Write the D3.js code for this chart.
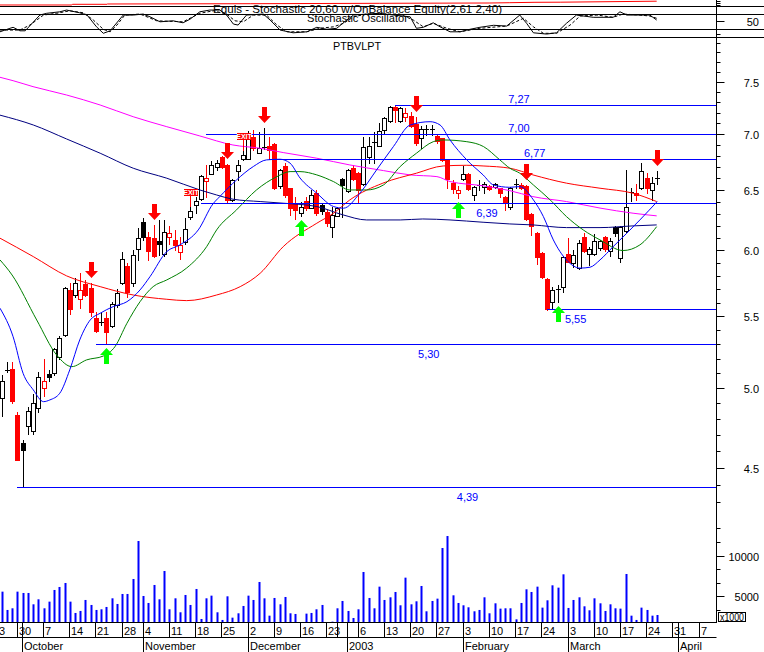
<!DOCTYPE html>
<html><head><meta charset="utf-8">
<script src="https://cdn.jsdelivr.net/npm/d3@7"></script>
<style>
body{margin:0;background:#fff}
svg{display:block}
text{font-family:"Liberation Sans",Arial,sans-serif;font-size:11px}
</style>
</head><body>
<svg id="c" width="764" height="652"></svg>
<script>
// ---------------- DATA ----------------
const firstBarDate = "2002-09-25";
const holidays = ["2002-11-01","2002-12-24","2002-12-25","2002-12-26","2003-01-01"];
const monthNames = ["January","February","March","April","May","June","July","August","September","October","November","December"];

const open = [4.941,5.124,5.135,4.829,4.654,4.761,4.730,4.872,5.003,5.099,
5.103,5.212,5.368,5.698,5.662,5.628,5.743,5.711,5.488,5.460,
5.488,5.435,5.586,5.748,5.885,5.748,6.014,6.233,6.112,6.101,
6.080,5.974,6.109,6.088,5.995,6.074,6.273,6.380,6.425,6.585,
6.644,6.709,6.792,6.723,6.419,6.670,6.774,6.774,6.973,6.834,
6.882,6.890,6.910,6.538,6.717,6.518,6.390,6.307,6.410,6.354,
6.481,6.375,6.315,6.196,6.285,6.600,6.498,6.694,6.649,6.556,
6.797,6.933,6.894,7.041,7.126,7.256,7.126,7.161,7.174,7.097,
6.964,7.047,7.047,6.986,6.964,6.777,6.568,6.480,6.597,6.644,
6.461,6.550,6.527,6.541,6.527,6.519,6.447,6.357,6.556,6.547,
6.538,6.301,6.142,5.982,5.782,5.610,5.703,5.719,5.976,5.903,
5.864,6.109,5.976,5.976,6.021,6.109,6.002,6.191,5.942,6.163,
6.485,6.481,6.519,6.606,6.504,6.606];
const high = [5.091,5.180,5.180,4.846,4.672,4.882,4.963,5.112,5.203,5.126,
5.277,5.360,5.720,5.748,5.790,5.825,5.774,5.748,5.531,5.531,
5.531,5.610,5.703,5.994,5.903,6.008,6.183,6.266,6.150,6.210,
6.249,6.251,6.204,6.169,6.115,6.268,6.363,6.447,6.630,6.720,
6.762,6.768,6.800,6.730,6.600,6.768,6.852,7.030,7.040,7.025,
7.057,6.980,6.920,6.690,6.739,6.520,6.440,6.400,6.440,6.500,
6.500,6.390,6.330,6.363,6.360,6.610,6.690,6.720,6.660,6.976,
6.976,7.025,7.106,7.160,7.272,7.272,7.260,7.250,7.212,7.160,
7.080,7.088,7.088,6.995,6.970,6.780,6.591,6.539,6.714,6.650,
6.540,6.591,6.576,6.550,6.560,6.520,6.450,6.530,6.597,6.560,
6.547,6.310,6.150,5.990,5.790,5.719,5.736,5.960,6.102,6.008,
6.088,6.142,6.034,6.136,6.090,6.120,6.104,6.200,6.200,6.679,
6.521,6.556,6.744,6.649,6.620,6.670];
const low = [4.825,5.110,4.908,4.550,4.390,4.709,4.709,4.850,4.953,5.053,
5.092,5.200,5.360,5.518,5.647,5.562,5.654,5.508,5.390,5.440,
5.305,5.423,5.573,5.743,5.647,5.728,5.929,6.088,5.929,5.953,
5.968,5.961,6.053,6.008,5.937,6.056,6.259,6.307,6.419,6.442,
6.640,6.679,6.700,6.400,6.410,6.591,6.770,6.774,6.860,6.830,
6.866,6.780,6.510,6.520,6.440,6.290,6.260,6.280,6.330,6.350,
6.290,6.300,6.200,6.115,6.280,6.279,6.490,6.590,6.396,6.550,
6.739,6.739,6.890,7.010,7.120,7.119,7.120,7.126,7.070,6.900,
6.873,6.995,6.995,6.919,6.760,6.519,6.478,6.433,6.591,6.500,
6.419,6.504,6.476,6.500,6.520,6.447,6.335,6.343,6.519,6.513,
6.251,6.128,5.898,5.790,5.550,5.554,5.610,5.686,5.913,5.877,
5.860,5.990,5.890,5.970,6.010,6.000,5.960,6.120,5.913,6.153,
6.410,6.419,6.513,6.481,6.419,6.553];
const close = [5.051,5.124,4.921,4.550,4.613,4.853,4.904,5.076,5.051,5.081,
5.268,5.345,5.711,5.554,5.748,5.698,5.660,5.531,5.397,5.460,
5.392,5.591,5.673,5.935,5.685,5.968,6.101,6.109,6.000,5.961,
6.058,6.150,6.145,6.048,6.046,6.175,6.327,6.410,6.626,6.611,
6.723,6.744,6.709,6.419,6.591,6.723,6.813,7.004,6.872,6.872,
6.882,6.860,6.517,6.679,6.462,6.350,6.335,6.363,6.350,6.461,
6.307,6.327,6.229,6.293,6.350,6.547,6.679,6.597,6.504,6.882,
6.894,6.933,7.032,7.152,7.256,7.227,7.250,7.200,7.078,6.924,
7.047,7.047,7.047,6.940,6.768,6.597,6.511,6.505,6.644,6.511,
6.533,6.550,6.556,6.513,6.553,6.481,6.390,6.524,6.556,6.524,
6.257,6.204,5.955,5.795,5.554,5.698,5.703,5.950,5.915,5.968,
6.061,6.002,6.014,6.080,6.082,6.014,6.082,6.147,6.196,6.363,
6.485,6.461,6.670,6.519,6.562,6.606];
const volume = [5618,3366,3571,5618,5454,5454,4061,4676,3571,4389,
5823,6192,6683,4389,2997,3243,4594,3980,3366,3448,
3735,4799,4102,5331,5331,7174,11843,5085,4225,6437,
4676,8157,3448,4799,3080,5208,3980,5946,2256,4799,
5126,3080,2137,5044,2420,2956,3857,5126,4594,6806,
4799,2665,4840,4061,4962,2956,2874,1850,2915,2997,
3448,3980,1700,1930,3571,4471,3243,2379,3448,8034,
4840,3571,6232,4594,4922,5577,3939,7338,4061,4430,
6314,3202,4471,4758,10982,12456,5167,4225,3939,3694,
3202,3366,4922,2956,4184,3530,3571,3571,2215,4225,
5905,5577,6232,3653,4553,6396,6110,7748,3612,4594,
4922,3816,3325,4799,4184,3243,4061,3571,3530,7789,
2665,2137,3653,3366,2665,2747];

// moving averages: [bar index, price]
const maMagenta = [[-0.3,7.55],[2.2,7.516],[6.0,7.457],[12.4,7.375],[18.8,7.278],[25.1,7.166],[31.5,7.072],[37.8,6.986],[44.1,6.903],[49.3,6.873],[53.7,6.834],[60.1,6.783],[66.4,6.723],[72.8,6.673],[77.9,6.635],[83.0,6.62],[85.5,6.577],[91.8,6.54],[96.9,6.498],[101.3,6.447],[107.7,6.405],[114.1,6.35],[120.4,6.307],[124.9,6.285]];
const maNavy = [[-0.3,7.181],[6.05,7.088],[12.4,6.958],[18.8,6.828],[25.1,6.694],[31.5,6.606],[37.8,6.504],[41.0,6.461],[44.1,6.425],[49.3,6.405],[53.7,6.391],[60.1,6.363],[65.1,6.293],[69.6,6.251],[76.0,6.251],[80.3,6.259],[85.5,6.251],[91.8,6.232],[96.9,6.218],[101.3,6.21],[107.7,6.188],[114.1,6.188],[120.4,6.202],[124.9,6.21]];
const maRed = [[-0.3,6.102],[6.05,5.955],[12.4,5.805],[18.8,5.723],[25.1,5.66],[31.5,5.628],[35.3,5.618],[41.0,5.66],[45.5,5.723],[49.3,5.825],[53.7,6.034],[60.1,6.224],[63.3,6.307],[66.4,6.419],[72.7,6.563],[79.1,6.65],[84.2,6.714],[88.7,6.72],[91.8,6.714],[96.9,6.694],[101.3,6.635],[107.7,6.563],[114.1,6.519],[120.4,6.476],[124.9,6.405]];
const maGreen = [[-0.3,5.929],[2.0,5.812],[6.7,5.476],[10.5,5.228],[13.4,5.148],[16.2,5.194],[19.4,5.221],[21.6,5.285],[23.9,5.452],[26.4,5.61],[28.9,5.723],[31.5,5.774],[35.3,5.866],[39.1,6.034],[41.0,6.169],[44.8,6.335],[48.6,6.504],[52.5,6.62],[55.0,6.664],[56.9,6.664],[60.1,6.635],[63.3,6.576],[66.4,6.504],[69.6,6.504],[72.8,6.547],[76.0,6.709],[79.1,6.828],[82.3,6.933],[84.2,6.949],[88.7,6.933],[91.9,6.888],[95.0,6.768],[96.9,6.694],[98.8,6.65],[101.4,6.547],[104.6,6.419],[107.7,6.279],[110.9,6.169],[114.1,6.088],[118.5,6.003],[121.7,6.048],[124.9,6.196]];
const maBlue = [[-0.3,5.562],[2.2,5.356],[4.1,5.103],[6.05,4.992],[8.0,4.915],[9.2,4.926],[11.1,4.97],[13.0,5.126],[14.9,5.333],[16.9,5.476],[18.8,5.525],[21.3,5.574],[23.9,5.61],[26.4,5.698],[28.3,5.799],[31.5,5.995],[34.0,6.048],[37.5,6.169],[40.3,6.385],[41.6,6.447],[44.8,6.591],[48.0,6.709],[50.5,6.768],[53.1,6.774],[55.0,6.739],[56.9,6.608],[60.1,6.476],[63.3,6.363],[65.2,6.349],[68.3,6.476],[71.5,6.679],[74.7,6.888],[77.9,7.088],[81.7,7.119],[83.6,7.088],[85.5,6.949],[88.7,6.768],[91.8,6.635],[93.8,6.547],[96.9,6.527],[98.8,6.533],[101.4,6.419],[103.3,6.279],[105.2,6.088],[107.7,5.929],[110.3,5.865],[112.2,5.872],[114.1,5.929],[116.6,6.034],[119.2,6.142],[121.7,6.251],[125,6.405]];

// stochastic %K (solid) and %D (dashed): [bar index, value 0-100]
const stochK = [[-0.3,10],[1.6,24],[2.2,28],[3.5,14],[4.5,14],[7.3,77],[8.6,84],[11.1,90],[12.4,97],[14.9,86],[16.3,77],[18.1,30],[19.4,4],[20.7,14],[23.2,77],[25.1,77],[27.0,81],[28.3,70],[30.2,50],[32.7,54],[34.6,46],[35.9,60],[37.8,90],[39.7,97],[41.6,97],[42.9,77],[44.2,41],[45.1,37],[46.7,77],[49.9,81],[51.2,57],[53.1,17],[55.6,6],[58.2,10],[60.1,28],[62.0,20],[63.9,24],[65.8,57],[67.1,77],[69.6,81],[72.1,84],[74.7,77],[77.9,70],[79.1,24],[80.4,28],[82.3,46],[83.6,30],[85.5,10],[87.4,10],[89.3,20],[91.2,28],[93.8,36],[96.3,33],[98.8,77],[100.1,44],[101.4,6],[103.9,1],[105.8,6],[107.7,44],[109.6,77],[112.8,68],[116.6,68],[117.9,90],[119.2,77],[121.1,77],[123.6,77],[124.9,57]];
const stochD = [[-0.3,17],[3.5,17],[5.4,37],[8.0,77],[10.5,84],[13.0,94],[15.6,86],[17.5,57],[19.4,20],[20.7,10],[22.0,37],[23.5,77],[26.4,81],[29.6,54],[34.6,50],[37.8,84],[40.4,94],[42.9,81],[44.5,54],[46.1,50],[48.0,77],[50.5,77],[52.5,37],[54.4,10],[58.2,10],[60.7,24],[63.3,30],[65.2,44],[67.1,70],[69.6,81],[72.1,81],[75.9,81],[78.5,57],[80.4,30],[82.3,44],[84.9,24],[87.4,10],[91.2,24],[96.3,33],[99.5,64],[101.4,30],[103.3,4],[105.8,4],[108.4,37],[110.3,73],[113.5,77],[116.6,68],[118.5,81],[121.7,77],[123.6,73],[124.9,64]];
const stochLevels = [20, 80];

// equity line (top strip)
const equity = [[-0.3,28.6],[13.4,28.6],[13.5,38.6],[20.1,38.6],[20.2,42.9],[47.4,47.1],[72.1,52.9],[93.1,57.1],[96.9,61.4],[101.7,67.1],[106.5,68.6],[124.9,82.9]];

// support / resistance lines: value, start bar, label bar, label side
const levels = [7.27, 7.00, 6.77, 6.39, 5.55, 5.30, 4.39];
const levelStart = [75, 39, 51, 38, 104, 18, 3];
const levelLabelAt = [96.6, 96.6, 99.6, 90.5, 107.4, 79.4, 86.8];
const levelLabelBelow = [false, false, false, true, true, true, true];

// expert signals
const sellSignals = [17, 29, 43, 50, 79, 100, 125];
const buySignals = [20, 57, 87, 106];
const exitSignals = [36, 46];

const priceTicksMajor = [4.5, 5.0, 5.5, 6.0, 6.5, 7.0, 7.5];
const volTicks = [3333.3, 5000, 6666.7, 8333.3, 10000, 11666.7, 13333.3];
const volTicksLabeled = [5000, 10000];

// ---------------- CHART ----------------
const svg = d3.select("#c");
svg.append("rect").attr("width",764).attr("height",652).attr("fill","#fff");

const AX = 716.5;
const x = d3.scaleLinear().domain([0,125]).range([1.57,657.2]);
const y = d3.scaleLog().domain([4.5,7.5]).range([468.3,82.3]);
const yVol = d3.scaleLinear().domain([1800,10000]).range([622.7,556]);
const yS = d3.scaleLinear().domain([0,100]).range([34.3,9.3]);
const yEq = d3.scaleLinear().domain([0,100]).range([7,0]);
const h = v => Math.round(v)+0.5;

// top strip: equity line
svg.append("path").datum(equity)
  .attr("d", d3.line().x(d=>x(d[0])).y(d=>yEq(d[1])))
  .attr("fill","none").attr("stroke","#ff0000").attr("stroke-width",1);

// panel separators and stochastic levels
[6.5, yS(stochLevels[1]), yS(stochLevels[0]), 37.5].forEach(v=>{
  svg.append("line").attr("x1",0).attr("x2",764).attr("y1",h(v-0.5)).attr("y2",h(v-0.5))
    .attr("stroke","#000").attr("stroke-width",1);
});

// stochastic lines
svg.append("path").datum(stochD)
  .attr("d", d3.line().x(d=>x(d[0])).y(d=>yS(d[1])))
  .attr("fill","none").attr("stroke","#000").attr("stroke-width",1).attr("stroke-dasharray","3,2");
svg.append("path").datum(stochK)
  .attr("d", d3.line().x(d=>x(d[0])).y(d=>yS(d[1])))
  .attr("fill","none").attr("stroke","#000").attr("stroke-width",1);

// titles
svg.append("text").attr("x",213).attr("y",12.5).attr("textLength",289).attr("lengthAdjust","spacingAndGlyphs")
  .style("font-size","10.5px")
  .text("Equis - Stochastic 20,60  w/OnBalance Equity(2,61 2,40)");
svg.append("text").attr("x",307).attr("y",21.5).attr("textLength",101).attr("lengthAdjust","spacingAndGlyphs")
  .style("font-size","10.5px")
  .text("Stochastic Oscillator");
svg.append("text").attr("x",333).attr("y",49.5).attr("textLength",48).attr("lengthAdjust","spacingAndGlyphs")
  .text("PTBVLPT");

// candles
const gC = svg.append("g");
open.forEach((o,i)=>{
  const c = close[i];
  const prev = i>0 ? close[i-1] : -Infinity;
  const col = c >= prev ? "#000" : "#ff0000";
  const cx = Math.round(x(i));
  gC.append("line").attr("x1",cx+0.5).attr("x2",cx+0.5)
    .attr("y1",Math.round(y(high[i]))).attr("y2",Math.round(y(low[i]))+1)
    .attr("stroke",col).attr("stroke-width",1);
  const top = Math.round(y(Math.max(o,c))), bot = Math.round(y(Math.min(o,c)));
  if (Math.abs(o-c) < 0.004) {
    gC.append("line").attr("x1",cx-2).attr("x2",cx+3).attr("y1",top+0.5).attr("y2",top+0.5)
      .attr("stroke",col).attr("stroke-width",1);
  } else if (c > o) {
    gC.append("rect").attr("x",cx-1.5).attr("y",top+0.5).attr("width",4).attr("height",Math.max(1,bot-top))
      .attr("fill","#fff").attr("stroke",col).attr("stroke-width",1);
  } else {
    gC.append("rect").attr("x",cx-2).attr("y",top).attr("width",5).attr("height",Math.max(2,bot-top+1))
      .attr("fill",col);
  }
});

// moving averages
const maLine = d3.line().x(d=>x(d[0])).y(d=>y(d[1])).curve(d3.curveMonotoneX);
[[maNavy,"#000080"],[maMagenta,"#ff00ff"],[maRed,"#ff0000"],[maGreen,"#008000"],[maBlue,"#0000ff"]].forEach(([arr,col])=>{
  svg.append("path").datum(arr).attr("d",maLine).attr("fill","none").attr("stroke",col).attr("stroke-width",1);
});

// support / resistance
const fmtLvl = v => d3.format(".2f")(v).replace(".",",");
levels.forEach((v,k)=>{
  const yy = h(y(v)-0.5);
  svg.append("line").attr("x1",Math.round(x(levelStart[k]))).attr("x2",AX).attr("y1",yy).attr("y2",yy)
    .attr("stroke","#0000ff").attr("stroke-width",1);
  svg.append("text").attr("x",x(levelLabelAt[k])).attr("y", levelLabelBelow[k] ? yy+13 : yy-3)
    .attr("fill","#0000ff").text(fmtLvl(v));
});

// signals
const sellPath = "M-2.5,-16L2.5,-16L2.5,-7L6.5,-7L0,0L-6.5,-7L-2.5,-7Z";
const buyPath = "M-2.5,16L2.5,16L2.5,7L6.5,7L0,0L-6.5,7L-2.5,7Z";
sellSignals.forEach(i=>{
  svg.append("path").attr("d",sellPath).attr("fill","#ff0000")
    .attr("transform",`translate(${Math.round(x(i))+0.5},${Math.round(y(high[i]))-5})`);
});
buySignals.forEach(i=>{
  svg.append("path").attr("d",buyPath).attr("fill","#00ff00")
    .attr("transform",`translate(${Math.round(x(i))+0.5},${Math.round(y(low[i]))+4})`);
});
exitSignals.forEach(i=>{
  const cx = Math.round(x(i)), hy = Math.round(y(high[i]));
  svg.append("line").attr("x1",cx+0.5).attr("x2",cx+0.5).attr("y1",hy-11).attr("y2",hy)
    .attr("stroke","#ff0000").attr("stroke-width",1);
  svg.append("rect").attr("x",cx-6).attr("y",hy-18).attr("width",14).attr("height",7).attr("fill","#ff0000");
  svg.append("text").attr("x",cx+1).attr("y",hy-12).attr("text-anchor","middle")
    .style("font-size","7px").style("font-weight","bold").attr("fill","#fff").text("EXIT");
});

// volume
volume.forEach((v,i)=>{
  const top = yVol(Math.max(v,1800));
  const cx = Math.round(x(i));
  if (622.7 - top >= 0.5)
    svg.append("rect").attr("x",cx-0.5).attr("y",top).attr("width",2).attr("height",622.7-top).attr("fill","#0000ff");
});

// right axis
svg.append("line").attr("x1",AX).attr("x2",AX).attr("y1",0).attr("y2",623).attr("stroke","#000");
d3.range(43,80).forEach(t=>{
  const v = t/10, yy = h(y(v)-0.5);
  const major = priceTicksMajor.some(m=>Math.abs(m-v)<1e-6);
  svg.append("line").attr("x1",AX).attr("x2",AX+(major?8:4)).attr("y1",yy).attr("y2",yy).attr("stroke","#000");
  if (major) svg.append("text").attr("x",759).attr("y",yy+4).attr("text-anchor","end").text(d3.format(".1f")(v));
});
volTicks.forEach(v=>{
  const yy = h(yVol(v)-0.5);
  const lab = volTicksLabeled.includes(v);
  svg.append("line").attr("x1",AX).attr("x2",AX+(lab?8:4)).attr("y1",yy).attr("y2",yy).attr("stroke","#000");
  if (lab) svg.append("text").attr("x",759).attr("y",yy+4).attr("text-anchor","end").text(v);
});
[0,20,50,80].forEach(v=>{
  const yy = h(yS(v)-0.5);
  svg.append("line").attr("x1",AX).attr("x2",AX+(v===50?8:4)).attr("y1",yy).attr("y2",yy).attr("stroke","#000");
  if (v===50) svg.append("text").attr("x",759).attr("y",yy+4).attr("text-anchor","end").text(v);
});
[15,43,76].forEach(v=>{
  const yy = h(yEq(v)-0.5);
  svg.append("line").attr("x1",AX).attr("x2",AX+4).attr("y1",yy).attr("y2",yy).attr("stroke","#000");
});
svg.append("rect").attr("x",718.5).attr("y",612.5).attr("width",27).attr("height",9).attr("fill","#fff").attr("stroke","#000");
svg.append("text").attr("x",720).attr("y",620.5).attr("textLength",24).attr("lengthAdjust","spacingAndGlyphs")
  .style("font-size","10px").text("x1000");

// x axis (trading calendar)
const fmt = d3.timeFormat("%Y-%m-%d");
const days = d3.timeDay.range(new Date(2002,8,23), new Date(2003,3,14))
  .filter(d=>d.getDay()%6!==0 && !holidays.includes(fmt(d)));
const off = days.findIndex(d=>fmt(d)===firstBarDate);
svg.append("line").attr("x1",0).attr("x2",AX).attr("y1",622.5).attr("y2",622.5).attr("stroke","#000");
svg.append("line").attr("x1",0).attr("x2",AX).attr("y1",637.5).attr("y2",637.5).attr("stroke","#000");
let lastEnd = -1e9;
days.forEach((d,j)=>{
  const xx = x(j-off);
  if (xx > AX-1) return;
  const prev = days[j-1];
  const weekStart = !prev || +d3.timeMonday.floor(d) !== +d3.timeMonday.floor(prev);
  const monthStart = prev && prev.getMonth() !== d.getMonth();
  const px = h(xx-0.5);
  if (monthStart) {
    svg.append("line").attr("x1",px).attr("x2",px).attr("y1",622.5).attr("y2",652).attr("stroke","#000");
    svg.append("text").attr("x",px+1.5).attr("y",650)
      .text(d.getMonth()===0 ? d.getFullYear() : monthNames[d.getMonth()]);
  }
  if (weekStart) {
    svg.append("line").attr("x1",px).attr("x2",px).attr("y1",622.5).attr("y2",637.5).attr("stroke","#000");
    const t = svg.append("text").attr("x",px+1.5).attr("y",635).text(d.getDate());
    const w = t.node().getComputedTextLength();
    if (px+1.5 < lastEnd + 2) t.remove(); else lastEnd = px+1.5+w;
  }
});
</script>
</body></html>
